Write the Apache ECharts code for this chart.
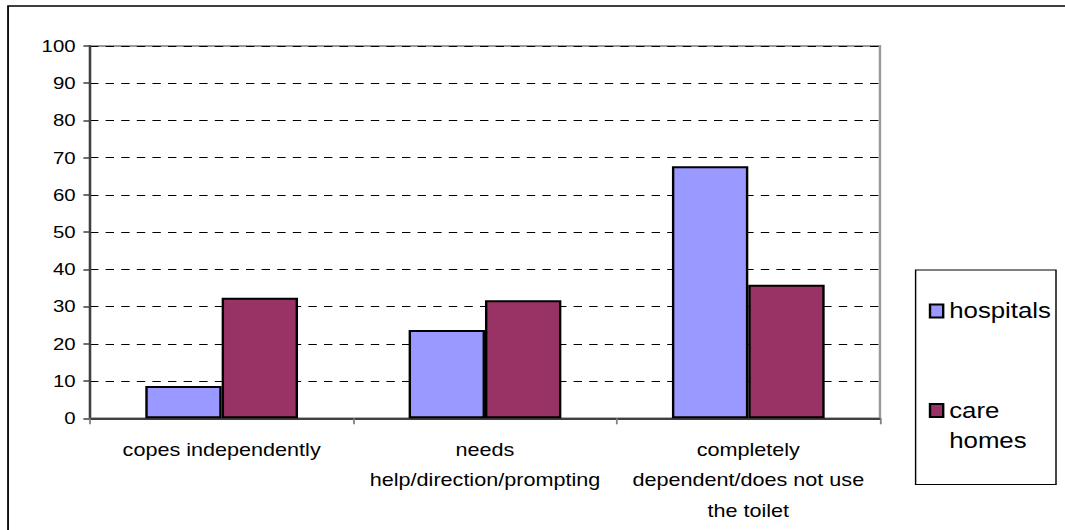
<!DOCTYPE html>
<html>
<head>
<meta charset="utf-8">
<script src="https://cdn.jsdelivr.net/npm/echarts@6/dist/echarts.min.js"></script>
<style>
  html, body { margin: 0; padding: 0; background: #ffffff; overflow: hidden; }
  #wrap { width: 1065px; height: 530px; overflow: hidden; position: relative; }
  /* the chart is laid out narrower and stretched horizontally */
  #chart { width: 888px; height: 530px; transform: scaleX(1.2); transform-origin: 0 0; }
</style>
</head>
<body>
<div id="wrap"><div id="chart"></div></div>
<script>
const categories = [
  'copes independently',
  'needs\nhelp/direction/prompting',
  'completely\ndependent/does not use\nthe toilet'
];
const seriesNames = ['hospitals', 'care homes'];
const hospitals = [8.7, 23.7, 67.7];
const careHomes = [32.4, 31.7, 35.9];
const yMin = 0, yMax = 100, yStep = 10;

const FONT = '"Liberation Sans", Arial, sans-serif';
const AXIS = '#404040';

const chart = echarts.init(document.getElementById('chart'), null, { renderer: 'svg' });

chart.setOption({
  animation: false,
  backgroundColor: '#ffffff',
  textStyle: { fontFamily: FONT, color: '#000000' },
  grid: {
    left: 75, right: 154.7, top: 46, bottom: 111.7,
    show: true, borderColor: '#999999', borderWidth: 2, backgroundColor: 'transparent'
  },
  graphic: [
    // outer frame: only the left and top edges fall inside the page
    { type: 'polyline', silent: true, shape: { points: [[6.7, 540], [6.7, 6], [888, 6]] },
      style: { fill: 'none', stroke: '#000000', lineWidth: 1.5 } },
    // legend box
    { type: 'rect', silent: true, shape: { x: 763, y: 270, width: 117, height: 214.5 },
      style: { fill: 'none', stroke: '#000000', lineWidth: 1.2 } }
  ],
  legend: [
    {
      data: [seriesNames[0]],
      left: 774, top: 300, padding: 0,
      icon: 'rect', itemWidth: 11, itemHeight: 13, itemGap: 0,
      textStyle: { fontFamily: FONT, fontSize: 21.5, color: '#000000' }
    },
    {
      data: [seriesNames[1]],
      left: 774, top: 365.5, padding: 0,
      icon: 'rect', itemWidth: 11, itemHeight: 13, itemGap: 0,
      // leading empty line keeps the first word level with the swatch
      formatter: function (name) { return '\n' + name.split(' ').join('\n'); },
      textStyle: { fontFamily: FONT, fontSize: 21.5, color: '#000000', lineHeight: 30 }
    }
  ],
  xAxis: {
    type: 'category',
    data: categories,
    axisLine: { lineStyle: { color: AXIS, width: 2 } },
    axisTick: { show: true, length: 6, lineStyle: { color: '#808080', width: 1.5 } },
    axisLabel: {
      interval: 0, margin: 16, color: '#000000', fontFamily: FONT, fontSize: 18,
      lineHeight: 30.5, align: 'center'
    }
  },
  yAxis: {
    type: 'value',
    min: yMin, max: yMax, interval: yStep,
    axisLine: { show: true, lineStyle: { color: AXIS, width: 2 } },
    axisTick: { show: true, length: 5.5, lineStyle: { color: AXIS, width: 1.5 } },
    axisLabel: { margin: 12, color: '#000000', fontFamily: FONT, fontSize: 17 },
    splitLine: { show: true, lineStyle: { color: '#000000', width: 1.2, type: [7, 6] } }
  },
  series: [
    {
      name: seriesNames[0], type: 'bar', data: hospitals,
      barGap: '0%', barCategoryGap: '42%',
      itemStyle: { color: '#9999FF', borderColor: '#000000', borderWidth: 2 }
    },
    {
      name: seriesNames[1], type: 'bar', data: careHomes,
      barGap: '0%', barCategoryGap: '42%',
      itemStyle: { color: '#993366', borderColor: '#000000', borderWidth: 2 }
    }
  ]
});
</script>
</body>
</html>
